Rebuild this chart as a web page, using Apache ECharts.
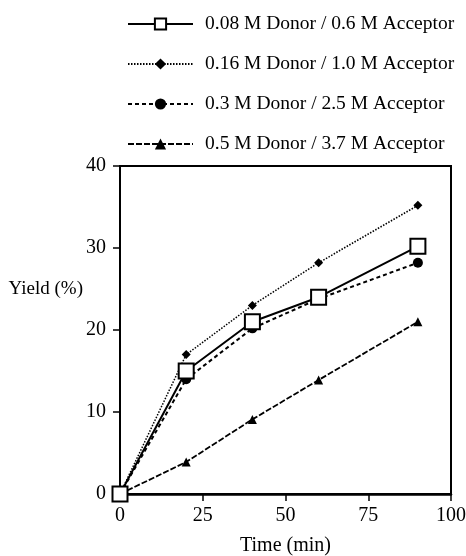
<!DOCTYPE html>
<html>
<head>
<meta charset="utf-8">
<script src="https://cdn.jsdelivr.net/npm/echarts@6/dist/echarts.min.js"></script>
<style>
  html, body { margin: 0; padding: 0; background: #fff; }
  #main { width: 466px; height: 556px; }
</style>
</head>
<body>
<div id="main"></div>
<script>
// data
const times = [0, 20, 40, 60, 90];
const seriesNames = [
  '0.08 M Donor / 0.6 M Acceptor',
  '0.16 M Donor / 1.0 M Acceptor',
  '0.3 M Donor / 2.5 M Acceptor',
  '0.5 M Donor / 3.7 M Acceptor'
];
const yield008 = [0, 15, 21, 24, 30.2];
const yield016 = [0, 17, 23, 28.2, 35.2];
const yield03 = [0, 14, 20.2, 23.8, 28.2];
const yield05 = [0, 3.9, 9.1, 13.9, 21];
const xTicks = [0, 25, 50, 75, 100];
const yTicks = [0, 10, 20, 30, 40];

const font = 'Liberation Serif';
const chart = echarts.init(document.getElementById('main'));

function pairs(ys) {
  return times.map((t, i) => [t, ys[i]]);
}

const option = {
  animation: false,
  textStyle: { fontFamily: font, color: '#000' },
  grid: {
    left: 120, right: 15, top: 166, bottom: 62,
    outerBoundsMode: 'none', containLabel: false,
    show: true, borderColor: '#000', borderWidth: 2
  },
  legend: {
    orient: 'vertical',
    left: 122, top: 9,
    itemWidth: 65, itemHeight: 14, itemGap: 20,
    textStyle: { fontFamily: font, fontSize: 19.5, lineHeight: 20, color: '#000', padding: [0, 0, 0, 7] },
    data: seriesNames
  },
  // y axis title sits a bit above the middle in the original
  graphic: [{
    type: 'text', right: 466 - 83, top: 280,
    style: { text: 'Yield (%)', font: '19px "Liberation Serif"', fill: '#000' }
  }],
  xAxis: {
    type: 'value',
    min: xTicks[0], max: xTicks[xTicks.length - 1], interval: 25,
    name: 'Time (min)', nameLocation: 'middle', nameGap: 42,
    nameTextStyle: { fontFamily: font, fontSize: 20, color: '#000' },
    axisLine: { lineStyle: { color: '#000', width: 2.5 } },
    axisTick: { length: 7, lineStyle: { color: '#000', width: 1.5 } },
    axisLabel: { fontFamily: font, fontSize: 20, color: '#000', margin: 12 },
    splitLine: { show: false }
  },
  yAxis: {
    type: 'value',
    min: yTicks[0], max: yTicks[yTicks.length - 1], interval: 10,
    axisLine: { lineStyle: { color: '#000', width: 2 } },
    axisTick: { length: 7, lineStyle: { color: '#000', width: 1.5 } },
    axisLabel: { fontFamily: font, fontSize: 20, color: '#000', margin: 14 },
    splitLine: { show: false }
  },
  series: [
    {
      name: seriesNames[0], type: 'line', data: pairs(yield008), z: 5,
      symbol: 'rect', symbolSize: 15,
      lineStyle: { color: '#000', width: 2, type: 'solid' },
      itemStyle: { color: '#fff', borderColor: '#000', borderWidth: 2 }
    },
    {
      name: seriesNames[1], type: 'line', data: pairs(yield016),
      symbol: 'diamond', symbolSize: 9,
      lineStyle: { color: '#000', width: 1.5, type: [1.5, 1.5] },
      itemStyle: { color: '#000' }
    },
    {
      name: seriesNames[2], type: 'line', data: pairs(yield03),
      symbol: 'circle', symbolSize: 10,
      lineStyle: { color: '#000', width: 2, type: [4, 3] },
      itemStyle: { color: '#000' }
    },
    {
      name: seriesNames[3], type: 'line', data: pairs(yield05),
      symbol: 'triangle', symbolSize: 9,
      lineStyle: { color: '#000', width: 1.8, type: [6, 2] },
      itemStyle: { color: '#000' }
    }
  ]
};

chart.setOption(option);
</script>
</body>
</html>
